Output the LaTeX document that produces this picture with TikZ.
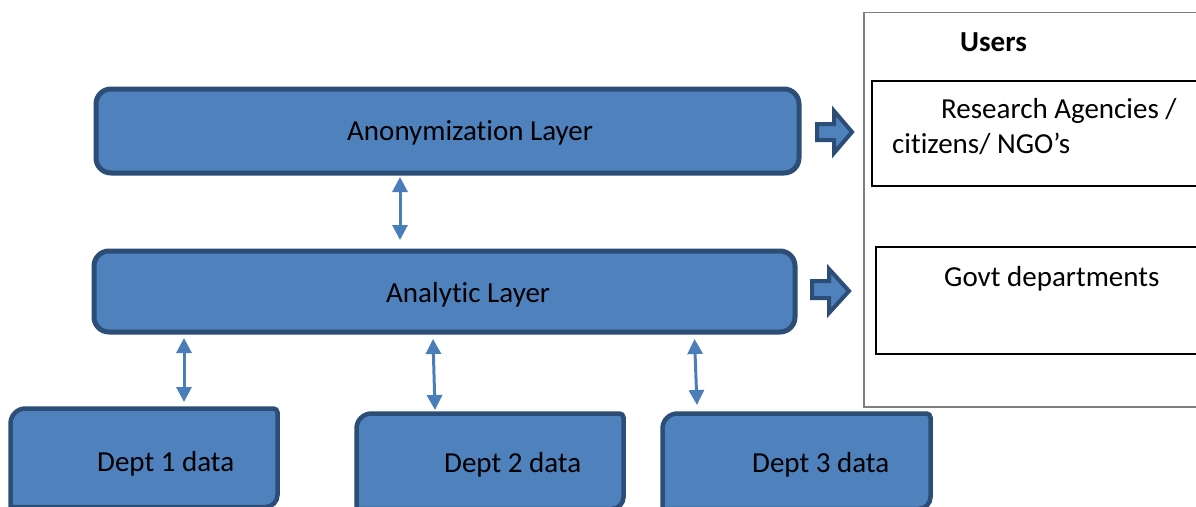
\documentclass[tikz,border=0pt]{standalone}
\usepackage{fontspec}
\setmainfont{Carlito}[Ligatures={NoCommon,NoContextual}]
\usetikzlibrary{arrows.meta}
\definecolor{boxfill}{HTML}{4F81BD}
\definecolor{boxline}{HTML}{2C4D75}
\definecolor{arrowblue}{HTML}{4A7EBB}
\definecolor{usergray}{HTML}{7F7F7F}
\tikzset{
  layer/.style={draw=boxline, fill=boxfill, line width=5pt, rounded corners=15pt, inner sep=0pt},
  deptbox/.style={draw=boxline, fill=boxfill, line width=4.5pt},
  txt/.style={anchor=base west, inner sep=0pt, font=\fontsize{29}{35}\selectfont},
  dbl/.style={draw=arrowblue, line width=3pt, {Triangle[width=15pt,length=15pt]}-{Triangle[width=15pt,length=15pt]}},
  blockarrow/.style={draw=boxline, fill=boxfill, line width=4pt, line join=miter},
  userbox/.style={draw=black, line width=2pt},
}
\begin{document}
\begin{tikzpicture}[x=1pt,y=-1pt]
\useasboundingbox (0,0) rectangle (1196,506);
\clip (0,0) rectangle (1196,506);
\fill[white] (0,0) rectangle (1196,506);

% Users panel
\draw[draw=usergray, line width=1.5pt] (1210,12.5) -- (864,12.5) -- (864,407) -- (1210,407);
\node[txt, font=\fontsize{29}{35}\selectfont\bfseries] (usersT) at (960,51) {Users};
\draw[userbox] (1210,80.5) -- (872,80.5) -- (872,186) -- (1210,186);
\node[txt] (resT1) at (941,118) {Research Agencies /};
\node[txt] (resT2) at (892,153) {citizens/ NGO’s};
\draw[userbox] (1210,247) -- (876,247) -- (876,353.5) -- (1210,353.5);
\node[txt] (govT) at (944,286) {Govt departments};

% Layers
\node[layer, minimum width=703pt, minimum height=84pt] (anon) at (447.5,131) {};
\node[txt] (anonT) at (347,140) {Anonymization Layer};
\node[layer, minimum width=701pt, minimum height=81pt] (analytic) at (444.5,291.5) {};
\node[txt] (analyticT) at (386,302) {Analytic Layer};

% Dept boxes
\draw[deptbox] (10.5,520) [rounded corners=15pt] -- (10.5,408.5) [rounded corners=4pt] -- (277.5,408.5) [rounded corners=12pt] -- (277.5,507) [sharp corners] -- (10.5,507) -- cycle;
\node[txt] (d1T) at (97,471) {Dept 1 data};
\draw[deptbox] (356.5,520) [rounded corners=15pt] -- (356.5,413.5) [rounded corners=4pt] -- (623.5,413.5) [rounded corners=12pt] -- (623.5,509) [sharp corners] -- (356.5,509) -- cycle;
\node[txt] (d2T) at (444,472) {Dept 2 data};
\draw[deptbox] (662.5,520) [rounded corners=15pt] -- (662.5,413.5) [rounded corners=4pt] -- (930.5,413.5) [rounded corners=12pt] -- (930.5,509) [sharp corners] -- (662.5,509) -- cycle;
\node[txt] (d3T) at (752,472) {Dept 3 data};

% connector end points
\coordinate (c0a) at (400,177);
\coordinate (c0b) at (400,240);
\coordinate (c1a) at (184,338);
\coordinate (c1b) at (184,402);
\coordinate (c2a) at (433,339);
\coordinate (c2b) at (435,410);
\coordinate (c3a) at (694.5,339);
\coordinate (c3b) at (697,405);
\draw[dbl] (c0a) -- (c0b);
\draw[dbl] (c1a) -- (c1b);
\draw[dbl] (c2a) -- (c2b);
\draw[dbl] (c3a) -- (c3b);

% block arrows
\draw[blockarrow] (817,124) -- (834,124) -- (834,111) -- (852,132) -- (834,153) -- (834,140) -- (817,140) -- cycle;
\draw[blockarrow] (812,281) -- (829,281) -- (829,269) -- (849,291) -- (829,313) -- (829,298) -- (812,298) -- cycle;
\end{tikzpicture}
\end{document}
